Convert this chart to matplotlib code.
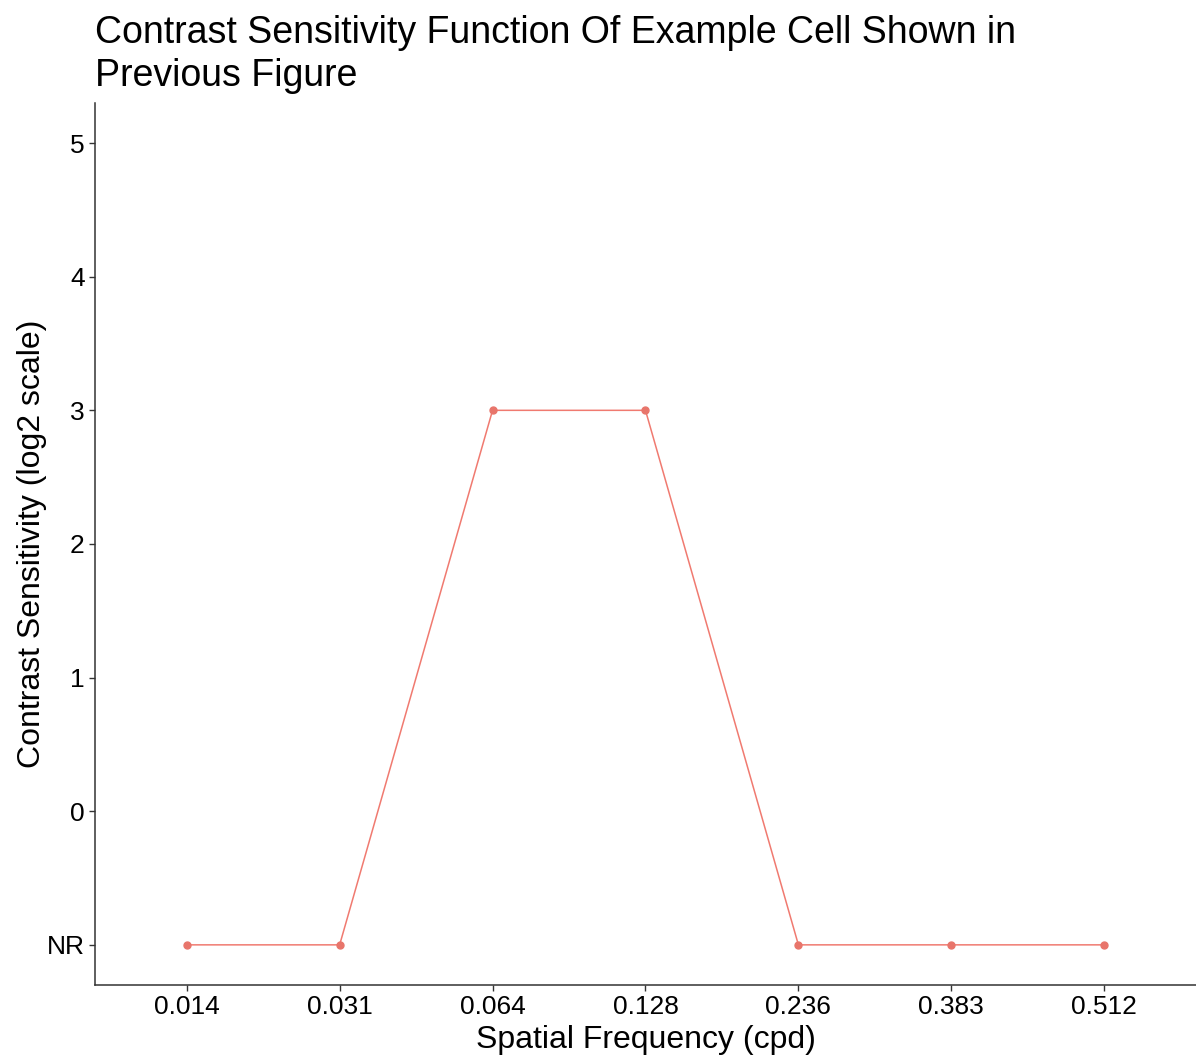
import numpy as np
import matplotlib
matplotlib.use('Agg')
import matplotlib.pyplot as plt

plt.rcParams['font.family'] = ['Liberation Sans', 'DejaVu Sans']

freqs = ['0.014', '0.031', '0.064', '0.128', '0.236', '0.383', '0.512']
sensitivity = [-1, -1, 3, 3, -1, -1, -1]   # -1 = NR (no response)
ytick_vals = [-1, 0, 1, 2, 3, 4, 5]
ytick_labels = ['NR', '0', '1', '2', '3', '4', '5']

fig = plt.figure(figsize=(11.96, 10.55), dpi=100)
ax = fig.add_axes([0.0794, 0.0664, 0.9206, 0.836])

x = np.arange(len(freqs))
ax.plot(x, sensitivity, color='#F07A70', lw=1.1, marker='o', ms=5, mec='#E8756B', mfc='#E8756B')

ax.set_xlim(-0.6, 6.6)
ax.set_ylim(-1.3, 5.3)
ax.set_xticks(x)
ax.set_xticklabels(freqs)
ax.set_yticks(ytick_vals)
ax.set_yticklabels(ytick_labels)

for s in ['top', 'right']:
    ax.spines[s].set_visible(False)
for s in ['left', 'bottom']:
    ax.spines[s].set_color('#333333')
    ax.spines[s].set_linewidth(1.1)
ax.tick_params(axis='both', labelsize=19, colors='#333333', labelcolor='black', length=4, width=1)

ax.set_xlabel('Spatial Frequency (cpd)', fontsize=23, labelpad=4)
ax.set_ylabel('Contrast Sensitivity (log2 scale)', fontsize=23, labelpad=0)

fig.text(0.0794, 0.911, 'Contrast Sensitivity Function Of Example Cell Shown in\nPrevious Figure',
         fontsize=27, ha='left', va='bottom', linespacing=1.25)

fig.savefig('out.png', dpi=100)
